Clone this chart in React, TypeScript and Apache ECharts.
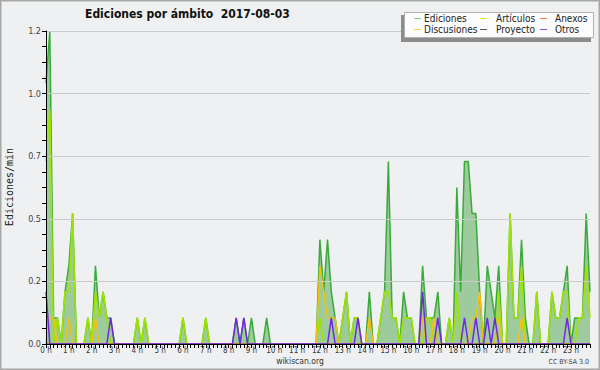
import React, { useEffect, useRef } from "react";
import * as echarts from "echarts";

// Hour tick labels (one every 6 ten-minute slots)
const HOUR_LABELS = [
  "0 h", "1 h", "2 h", "3 h", "4 h", "5 h", "6 h", "7 h", "8 h", "9 h", "10 h", "11 h",
  "12 h", "13 h", "14 h", "15 h", "16 h", "17 h", "18 h", "19 h", "20 h", "21 h", "22 h", "23 h",
];

const Y_TICKS = [0, 0.24, 0.48, 0.72, 0.96, 1.2];

// Edits per minute, 10-minute slots (6 per hour)
const EDICIONES = [
  1.0, 1.2, 0.1, 0.1, 0, 0.2,
  0.3, 0.5, 0, 0, 0, 0.1,
  0, 0.3, 0.1, 0.2, 0.1, 0.1,
  0, 0, 0, 0, 0, 0,
  0.1, 0, 0.1, 0, 0, 0,
  0, 0, 0, 0, 0, 0,
  0.1, 0, 0, 0, 0, 0,
  0.1, 0, 0, 0, 0, 0,
  0, 0, 0.1, 0, 0.1, 0,
  0.1, 0, 0, 0, 0.1, 0,
  0, 0, 0, 0, 0, 0,
  0, 0, 0, 0, 0, 0,
  0.4, 0.2, 0.4, 0.2, 0.1, 0,
  0.1, 0.2, 0, 0.1, 0.1, 0,
  0, 0.2, 0, 0, 0.1, 0.2,
  0.7, 0.1, 0.1, 0, 0.2, 0.1,
  0.1, 0, 0, 0.3, 0.1, 0.1,
  0.1, 0.2, 0, 0, 0.1, 0,
  0.6, 0.2, 0.7, 0.7, 0.5, 0.5,
  0.2, 0, 0.3, 0.2, 0.1, 0.3,
  0, 0, 0.5, 0.1, 0.1, 0.4,
  0.1, 0, 0, 0.2, 0, 0,
  0, 0.2, 0.1, 0.1, 0.2, 0.3,
  0, 0.1, 0.1, 0.1, 0.5, 0.2,
];

const ARTICULOS = [
  0.7, 0.9, 0, 0.1, 0, 0.2,
  0.2, 0.5, 0, 0, 0, 0.1,
  0, 0.2, 0.1, 0.2, 0.1, 0,
  0, 0, 0, 0, 0, 0,
  0.1, 0, 0.1, 0, 0, 0,
  0, 0, 0, 0, 0, 0,
  0.1, 0, 0, 0, 0, 0,
  0.1, 0, 0, 0, 0, 0,
  0, 0, 0, 0, 0, 0,
  0, 0, 0, 0, 0, 0,
  0, 0, 0, 0, 0, 0,
  0, 0, 0, 0, 0, 0,
  0.1, 0, 0, 0, 0, 0,
  0.1, 0.2, 0, 0.1, 0.1, 0,
  0, 0, 0, 0, 0.1, 0.2,
  0.2, 0.1, 0.1, 0, 0.1, 0.1,
  0.1, 0, 0, 0, 0.1, 0.1,
  0, 0, 0, 0, 0.1, 0,
  0.2, 0, 0, 0, 0, 0,
  0, 0, 0, 0, 0, 0.2,
  0, 0, 0.5, 0.1, 0.1, 0.3,
  0, 0, 0, 0.2, 0, 0,
  0, 0.2, 0.1, 0.1, 0.2, 0.2,
  0, 0, 0.1, 0.1, 0.3, 0.1,
];

const ANEXOS = [
  0, 0, 0, 0, 0, 0, 0, 0, 0, 0, 0, 0, 0, 0, 0, 0, 0, 0, 0, 0, 0, 0, 0, 0,
  0, 0, 0, 0, 0, 0, 0, 0, 0, 0, 0, 0, 0, 0, 0, 0, 0, 0, 0, 0, 0, 0, 0, 0,
  0, 0, 0, 0, 0, 0, 0, 0, 0, 0, 0, 0, 0, 0, 0, 0, 0, 0, 0, 0, 0, 0, 0, 0,
  0, 0, 0, 0, 0, 0, 0, 0, 0, 0, 0, 0, 0, 0, 0, 0, 0, 0, 0, 0, 0, 0, 0, 0,
  0, 0, 0, 0, 0, 0, 0, 0, 0, 0, 0, 0, 0, 0, 0, 0, 0, 0, 0, 0, 0, 0, 0, 0,
  0, 0, 0, 0, 0, 0, 0, 0, 0, 0, 0, 0, 0, 0, 0, 0, 0, 0, 0, 0, 0, 0, 0, 0,
];

const DISCUSIONES = [
  0, 0.1, 0.1, 0, 0, 0,
  0.1, 0, 0, 0, 0, 0,
  0, 0.1, 0, 0, 0, 0,
  0, 0, 0, 0, 0, 0,
  0, 0, 0, 0, 0, 0,
  0, 0, 0, 0, 0, 0,
  0, 0, 0, 0, 0, 0,
  0, 0, 0, 0, 0, 0,
  0, 0, 0, 0, 0, 0,
  0, 0, 0, 0, 0, 0,
  0, 0, 0, 0, 0, 0,
  0, 0, 0, 0, 0, 0,
  0.3, 0.2, 0.1, 0.1, 0.1, 0,
  0, 0, 0, 0, 0, 0,
  0, 0.1, 0, 0, 0, 0,
  0, 0, 0, 0, 0, 0,
  0, 0, 0, 0.1, 0, 0,
  0.1, 0, 0, 0, 0, 0,
  0, 0, 0, 0, 0.1, 0.1,
  0.2, 0, 0, 0, 0, 0.1,
  0, 0, 0, 0, 0, 0.1,
  0, 0, 0, 0, 0, 0,
  0, 0, 0, 0, 0, 0,
  0, 0, 0, 0, 0, 0,
];

const PROYECTO = [
  0, 0, 0, 0, 0, 0, 0, 0, 0, 0, 0, 0, 0, 0, 0, 0, 0, 0, 0, 0, 0, 0, 0, 0,
  0, 0, 0, 0, 0, 0, 0, 0, 0, 0, 0, 0, 0, 0, 0, 0, 0, 0, 0, 0, 0, 0, 0, 0,
  0, 0, 0, 0, 0, 0, 0, 0, 0, 0, 0, 0, 0, 0, 0, 0, 0, 0, 0, 0, 0, 0, 0, 0,
  0, 0, 0, 0, 0, 0, 0, 0, 0, 0, 0, 0, 0, 0, 0, 0, 0, 0, 0, 0, 0, 0, 0, 0,
  0, 0, 0, 0, 0, 0, 0, 0, 0, 0, 0, 0, 0, 0, 0, 0, 0, 0, 0, 0, 0, 0, 0, 0,
  0, 0, 0, 0, 0, 0, 0, 0, 0, 0, 0, 0, 0, 0, 0, 0, 0, 0, 0, 0, 0, 0, 0, 0,
];

const OTROS = [
  0.2, 0, 0, 0, 0, 0,
  0, 0, 0, 0, 0, 0,
  0, 0, 0, 0, 0, 0.1,
  0, 0, 0, 0, 0, 0,
  0, 0, 0, 0, 0, 0,
  0, 0, 0, 0, 0, 0,
  0, 0, 0, 0, 0, 0,
  0, 0, 0, 0, 0, 0,
  0, 0, 0.1, 0, 0.1, 0,
  0, 0, 0, 0, 0, 0,
  0, 0, 0, 0, 0, 0,
  0, 0, 0, 0, 0, 0,
  0, 0, 0, 0.1, 0, 0,
  0, 0, 0, 0, 0.1, 0,
  0, 0, 0, 0, 0, 0,
  0, 0, 0, 0, 0, 0,
  0, 0, 0, 0.2, 0, 0,
  0, 0.1, 0, 0, 0, 0,
  0, 0, 0.1, 0, 0, 0.1,
  0, 0, 0.1, 0, 0.1, 0,
  0, 0, 0, 0, 0, 0,
  0, 0, 0, 0, 0, 0,
  0, 0, 0, 0, 0, 0.1,
  0, 0, 0, 0, 0, 0,
];

const LEGEND = [
  { name: "Ediciones", color: "#7fcf7f", col: 0, row: 0 },
  { name: "Artículos", color: "#cdf03c", col: 1, row: 0 },
  { name: "Anexos", color: "#ff7a4a", col: 2, row: 0 },
  { name: "Discusiones", color: "#ffcf40", col: 0, row: 1 },
  { name: "Proyecto", color: "#5a5a5a", col: 1, row: 1 },
  { name: "Otros", color: "#8a4cf0", col: 2, row: 1 },
];

const FONT = "'DejaVu Sans Condensed', 'DejaVu Sans', sans-serif";

export default function App() {
  const ref = useRef<HTMLDivElement>(null);

  useEffect(() => {
    if (!ref.current) return;
    const chart = echarts.init(ref.current, undefined, { renderer: "svg" });

    const times: string[] = [];
    HOUR_LABELS.forEach((h) => {
      for (let m = 0; m < 6; m++) times.push(h + " " + m * 10);
    });

    const line = (name: string, data: number[], color: string, width: number, z: number, extra: any = {}) => ({
      type: "line",
      name,
      data,
      symbol: "none",
      silent: true,
      z,
      lineStyle: { color, width },
      emphasis: { disabled: true },
      ...extra,
    });

    const colX = [414, 480, 540];
    const textX = [424, 496, 555];
    const rowY = [18.5, 29.5];

    const legendEls: any[] = [
      { type: "rect", shape: { x: 401, y: 15, width: 190, height: 27 }, style: { fill: "#8c8c8c" }, z: 100 },
      { type: "rect", shape: { x: 404.5, y: 12.5, width: 189, height: 25 }, style: { fill: "#fcfcfc", stroke: "#b0b0b0", lineWidth: 1 }, z: 101 },
    ];
    LEGEND.forEach((l) => {
      legendEls.push({
        type: "line",
        shape: { x1: colX[l.col], y1: rowY[l.row], x2: colX[l.col] + 7, y2: rowY[l.row] },
        style: { stroke: l.color, lineWidth: 1 },
        z: 102,
      });
      legendEls.push({
        type: "text",
        x: textX[l.col],
        y: rowY[l.row],
        style: { text: l.name, fill: "#222", font: `10px ${FONT}`, textVerticalAlign: "middle" },
        z: 102,
      });
    });

    chart.setOption({
      animation: false,
      backgroundColor: "#eff0f1",
      grid: { left: 46, right: 10, top: 31, bottom: 26, containLabel: false },
      xAxis: {
        type: "category",
        data: times,
        boundaryGap: false,
        z: 10,
        axisLine: { lineStyle: { color: "#000", width: 1 } },
        axisTick: { show: true, interval: 0, length: 4, lineStyle: { color: "#000" } },
        axisLabel: {
          interval: 5,
          margin: 2,
          color: "#333",
          fontSize: 8,
          fontFamily: FONT,
          formatter: (_v: string, idx: number) => HOUR_LABELS[idx / 6] ?? "",
        },
        splitLine: { show: false },
      },
      yAxis: {
        type: "value",
        min: Y_TICKS[0],
        max: Y_TICKS[Y_TICKS.length - 1],
        interval: Y_TICKS[1],
        z: 10,
        axisLine: { show: true, lineStyle: { color: "#000", width: 1 } },
        axisTick: { show: true, length: 4, lineStyle: { color: "#000" } },
        minorTick: { show: true, splitNumber: 4, length: 4, lineStyle: { color: "#000" } },
        axisLabel: {
          margin: 5,
          color: "#444",
          fontSize: 9,
          fontFamily: FONT,
          formatter: (v: number) => v.toFixed(1),
        },
        splitLine: { show: true, lineStyle: { color: "#cbcbcb", width: 1 } },
      },
      series: [
        line("Ediciones", EDICIONES, "#3aaa3a", 1.5, 2, {
          areaStyle: { color: "#9ecb9e", opacity: 1 },
        }),
        line("Artículos", ARTICULOS, "#9fe400", 1.6, 3),
        line("Anexos", ANEXOS, "#ff6a33", 1.2, 3),
        line("Discusiones", DISCUSIONES, "#f3c10f", 1.5, 4),
        line("Proyecto", PROYECTO, "#555555", 1.2, 4),
        line("Otros", OTROS, "#7327e3", 1.5, 5),
      ],
      graphic: [
        {
          type: "rect",
          shape: { x: 0.75, y: 0.75, width: 598.5, height: 368.5 },
          style: { fill: "none", stroke: "#a8a8a8", lineWidth: 1.5 },
          z: 50,
        },
        {
          type: "text",
          x: 85,
          y: 14,
          style: {
            text: "Ediciones por ámbito  2017-08-03",
            fill: "#111",
            font: `bold 12px ${FONT}`,
            textVerticalAlign: "middle",
          },
        },
        {
          type: "text",
          x: 9,
          y: 187,
          rotation: Math.PI / 2,
          style: {
            text: "Ediciones/min",
            fill: "#222",
            font: "10px 'DejaVu Sans Mono', monospace",
            textAlign: "center",
            textVerticalAlign: "middle",
          },
        },
        {
          type: "text",
          x: 300,
          y: 361,
          style: {
            text: "wikiscan.org",
            fill: "#333",
            font: `8.5px ${FONT}`,
            textAlign: "center",
            textVerticalAlign: "middle",
          },
        },
        {
          type: "text",
          x: 589,
          y: 362,
          style: {
            text: "CC BY-SA 3.0",
            fill: "#444",
            font: `7px ${FONT}`,
            textAlign: "right",
            textVerticalAlign: "middle",
          },
        },
        ...legendEls,
      ],
    });

    return () => chart.dispose();
  }, []);

  return (
    <div
      ref={ref}
      style={{ position: "fixed", left: 0, top: 0, width: 600, height: 370 }}
    />
  );
}
